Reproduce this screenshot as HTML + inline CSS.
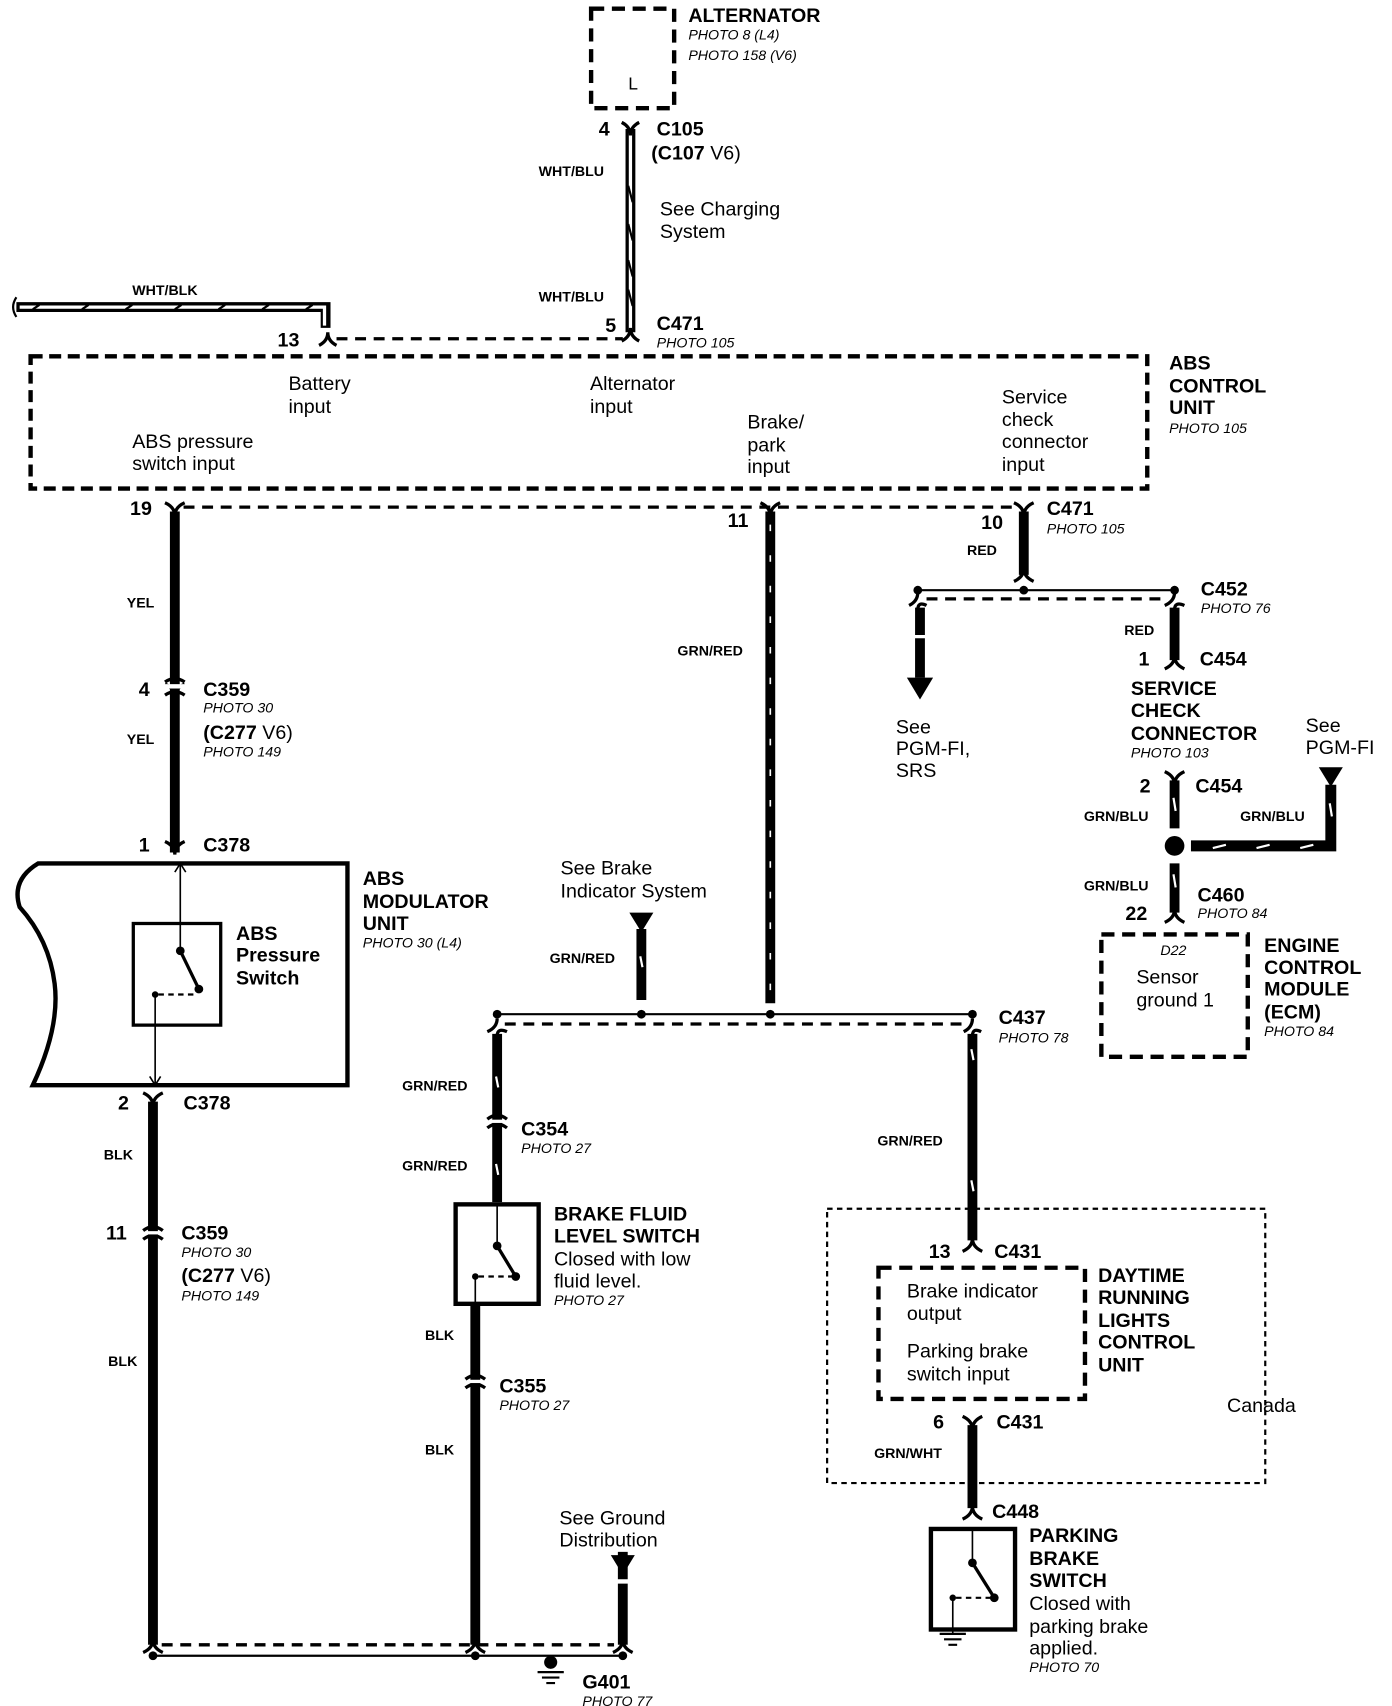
<!DOCTYPE html>
<html><head><meta charset="utf-8"><style>
html,body{margin:0;padding:0;background:#fff}
svg{display:block}
text{font-family:"Liberation Sans",Arial,sans-serif;fill:#000}
.b{font-weight:bold;font-size:18px}
.n{font-size:18px}
.i{font-style:italic;font-size:13px}
.w{font-weight:bold;font-size:13px}
</style></head><body>
<svg width="1392" height="1706" viewBox="0 0 1274 1561" preserveAspectRatio="none" xmlns="http://www.w3.org/2000/svg">
<g fill="none" stroke="#000">
<!-- Alternator box -->
<rect x="541" y="8" width="76" height="91" stroke-width="4" stroke-dasharray="12,7"/>
<!-- C105-C471 wire (double line) -->
<line x1="577" y1="118" x2="577" y2="304" stroke-width="9"/>
<line x1="577" y1="120" x2="577" y2="302" stroke="#fff" stroke-width="3"/>
<path d="M575 170 L579 185 M575 205 L579 220 M575 238 L579 253 M575 265 L579 280" stroke-width="2"/>
<path d="M569 112 Q577 116 577 124 Q577 116 585 112" stroke-width="3"/>
<path d="M569 312 Q577 308 577 300 Q577 308 585 312" stroke-width="3"/>
<!-- WHT/BLK -->
<path d="M15 281 H298 V300" stroke-width="9"/>
<path d="M18 281 H297 V298" stroke="#fff" stroke-width="3"/>
<path d="M30 283 l6 -4 M75 283 l6 -4 M115 283 l6 -4 M160 283 l6 -4 M200 283 l6 -4 M240 283 l6 -4 M280 283 l6 -4" stroke-width="2"/>
<path d="M15 272 q-6 9 0 18" stroke-width="2"/>
<path d="M292 316 Q300 312 300 304 Q300 312 308 316" stroke-width="3"/>
<line x1="308" y1="310" x2="570" y2="310" stroke-width="3" stroke-dasharray="10,7"/>
<!-- ABS control unit -->
<rect x="28" y="326" width="1022" height="121" stroke-width="4" stroke-dasharray="11,6"/>
<line x1="168" y1="464" x2="930" y2="464" stroke-width="3" stroke-dasharray="10,7"/>
<!-- YEL wire -->
<line x1="160" y1="468" x2="160" y2="780" stroke-width="9"/>
<path d="M151 460 Q160 464 160 472 Q160 464 169 460" stroke-width="3"/>
<path d="M151 626 Q160 630 160 638" stroke-width="3" /><path d="M169 626 Q160 630 160 638" stroke-width="3"/>
<rect x="150" y="626" width="20" height="4" fill="#fff" stroke="none"/>
<path d="M151 636 Q160 630 169 636" stroke-width="3"/>
<path d="M151 634 Q160 628 169 634" stroke-width="3" transform="translate(0,-10) scale(1,1)" />
<path d="M151 770 Q160 774 160 782 Q160 774 169 770" stroke-width="3"/>
<!-- ABS modulator -->
<path d="M35 790 H318 V993 H30 Q55 940 50 900 Q45 860 18 830 Q10 805 35 790 Z" stroke-width="4"/>
<rect x="122" y="845" width="80" height="93" stroke-width="3"/>
<line x1="165" y1="790" x2="165" y2="870" stroke-width="1.5"/>
<path d="M160 798 l5 -8 l5 8" stroke-width="1.5"/>
<line x1="165" y1="870" x2="182" y2="905" stroke-width="3"/>
<line x1="142" y1="910" x2="142" y2="993" stroke-width="1.5"/>
<path d="M137 985 l5 8 l5 -8" stroke-width="1.5"/>
<line x1="145" y1="910" x2="180" y2="910" stroke-width="2" stroke-dasharray="5,4"/>
<!-- BLK wire left -->
<path d="M131 1000 Q140 1004 140 1012 Q140 1004 149 1000" stroke-width="3"/>
<line x1="140" y1="1008" x2="140" y2="1505" stroke-width="9"/>
<path d="M131 1126 Q140 1119 149 1126 M131 1134 Q140 1127 149 1134" stroke-width="3"/>
<line x1="135" y1="1128" x2="145" y2="1128" stroke="#fff" stroke-width="3"/>
<!-- GRN/RED center wire 11 -->
<path d="M696 460 Q705 464 705 472 Q705 464 714 460" stroke-width="3"/>
<line x1="705" y1="468" x2="705" y2="918" stroke-width="9"/>
<line x1="705" y1="480" x2="705" y2="915" stroke="#fff" stroke-width="1.5" stroke-dasharray="6,22"/>
<!-- RED wire 10 -->
<path d="M928 460 Q937 464 937 472 Q937 464 946 460" stroke-width="3"/>
<line x1="937" y1="468" x2="937" y2="526" stroke-width="9"/>
<path d="M928 532 Q937 528 937 520 Q937 528 946 532" stroke-width="3"/>
<line x1="840" y1="540" x2="1075" y2="540" stroke-width="2"/>
<line x1="848" y1="548" x2="1068" y2="548" stroke-width="3" stroke-dasharray="10,7"/>
<path d="M832 554 Q840 550 840 542 M848 554 Q840 550 840 558" stroke-width="3"/>
<line x1="842" y1="556" x2="842" y2="620" stroke-width="9" stroke-dasharray="25,3,40"/>
<path d="M1066 554 Q1075 550 1075 542 M1084 554 Q1075 550 1075 558" stroke-width="3"/>
<line x1="1075" y1="556" x2="1075" y2="604" stroke-width="9"/>
<path d="M1066 612 Q1075 608 1075 600 Q1075 608 1084 612" stroke-width="3"/>
<!-- GRN/BLU -->
<path d="M1066 706 Q1075 710 1075 718 Q1075 710 1084 706" stroke-width="3"/>
<line x1="1075" y1="714" x2="1075" y2="758" stroke-width="9"/>
<line x1="1075" y1="790" x2="1075" y2="835" stroke-width="9"/>
<path d="M1066 844 Q1075 840 1075 832 Q1075 840 1084 844" stroke-width="3"/>
<path d="M1090 774 H1218 V718" stroke-width="10"/>
<path d="M1110 776 l12 -3 M1150 776 l12 -3 M1190 776 l12 -3 M1217 735 l2 12 M1074 730 l2 12 M1074 800 l2 12" stroke="#fff" stroke-width="2"/>
<!-- ECM box -->
<rect x="1008" y="855" width="134" height="112" stroke-width="4" stroke-dasharray="12,7"/>
<!-- GRN/RED bus C437 -->
<line x1="587" y1="850" x2="587" y2="915" stroke-width="9"/>
<line x1="455" y1="928" x2="890" y2="928" stroke-width="2"/>
<line x1="462" y1="937" x2="882" y2="937" stroke-width="3" stroke-dasharray="10,7"/>
<path d="M446 944 Q455 940 455 932 M464 944 Q455 940 455 948" stroke-width="3"/>
<line x1="455" y1="946" x2="455" y2="1100" stroke-width="9"/>
<path d="M446 1024 Q455 1017 464 1024 M446 1032 Q455 1025 464 1032" stroke-width="3"/>
<line x1="450" y1="1026" x2="460" y2="1026" stroke="#fff" stroke-width="3"/>
<path d="M882 944 Q890 940 890 932 M898 944 Q890 940 890 948" stroke-width="3"/>
<line x1="890" y1="946" x2="890" y2="1135" stroke-width="9"/>
<path d="M881 1145 Q890 1141 890 1133 Q890 1141 899 1145" stroke-width="3"/>
<path d="M454 985 l2 10 M454 1065 l2 10 M586 875 l2 10 M889 960 l2 10 M889 1080 l2 10" stroke="#fff" stroke-width="2"/>
<!-- Brake fluid switch -->
<rect x="417" y="1102" width="76" height="91" stroke-width="4"/>
<line x1="455" y1="1102" x2="455" y2="1140" stroke-width="1.5"/>
<line x1="455" y1="1140" x2="472" y2="1168" stroke-width="3"/>
<line x1="435" y1="1168" x2="435" y2="1193" stroke-width="1.5"/>
<line x1="438" y1="1168" x2="472" y2="1168" stroke-width="2" stroke-dasharray="5,4"/>
<line x1="435" y1="1195" x2="435" y2="1505" stroke-width="9"/>
<path d="M426 1262 Q435 1255 444 1262 M426 1270 Q435 1263 444 1270" stroke-width="3"/>
<line x1="430" y1="1264" x2="440" y2="1264" stroke="#fff" stroke-width="3"/>
<!-- ground bus -->
<line x1="570" y1="1420" x2="570" y2="1505" stroke-width="9" stroke-dasharray="25,4,60"/>
<line x1="148" y1="1505" x2="562" y2="1505" stroke-width="3" stroke-dasharray="10,7"/>
<line x1="140" y1="1515" x2="570" y2="1515" stroke-width="2"/>
<path d="M131 1512 Q140 1508 140 1500 Q140 1508 149 1512 M426 1512 Q435 1508 435 1500 Q435 1508 444 1512 M561 1512 Q570 1508 570 1500 Q570 1508 579 1512" stroke-width="3"/>
<path d="M492 1530 h24 M496 1535 h16 M500 1540 h8" stroke-width="2"/>
<!-- DRL -->
<rect x="757" y="1106" width="401" height="251" stroke-width="2" stroke-dasharray="5,4"/>
<rect x="804" y="1160" width="189" height="120" stroke-width="4" stroke-dasharray="12,7"/>
<path d="M881 1296 Q890 1300 890 1308 Q890 1300 899 1296" stroke-width="3"/>
<line x1="890" y1="1304" x2="890" y2="1380" stroke-width="9"/>
<path d="M881 1390 Q890 1386 890 1378 Q890 1386 899 1390" stroke-width="3"/>
<rect x="852" y="1399" width="77" height="92" stroke-width="4"/>
<line x1="890" y1="1399" x2="890" y2="1430" stroke-width="1.5"/>
<line x1="890" y1="1430" x2="910" y2="1462" stroke-width="3"/>
<line x1="872" y1="1462" x2="872" y2="1495" stroke-width="1.5"/>
<line x1="875" y1="1462" x2="910" y2="1462" stroke-width="2" stroke-dasharray="5,4"/>
<path d="M860 1495 h24 M864 1500 h16 M868 1505 h8" stroke-width="2"/>
</g>
<g fill="#000">
<circle cx="840" cy="540" r="4"/><circle cx="937" cy="540" r="4"/><circle cx="1075" cy="540" r="4"/>
<path d="M830 620 H854 L842 640 Z"/>
<path d="M1207 702 H1229 L1218 720 Z"/>
<path d="M576 835 H598 L587 853 Z"/>
<path d="M559 1423 H581 L570 1441 Z"/>
<circle cx="1075" cy="774" r="9"/>
<circle cx="455" cy="928" r="4"/><circle cx="587" cy="928" r="4"/><circle cx="705" cy="928" r="4"/><circle cx="890" cy="928" r="4"/>
<circle cx="140" cy="1515" r="4"/><circle cx="435" cy="1515" r="4"/><circle cx="570" cy="1515" r="4"/><circle cx="504" cy="1521" r="6"/>
<circle cx="165" cy="870" r="4"/><circle cx="182" cy="905" r="4"/><circle cx="142" cy="910" r="3"/>
<circle cx="455" cy="1140" r="4"/><circle cx="472" cy="1168" r="4"/><circle cx="435" cy="1168" r="3"/>
<circle cx="890" cy="1430" r="4"/><circle cx="910" cy="1462" r="4"/><circle cx="872" cy="1462" r="3"/>
</g>
<!-- Text -->
<text x="630" y="20" class="b">ALTERNATOR</text>
<text x="630" y="36" class="i">PHOTO 8 (L4)</text>
<text x="630" y="55" class="i">PHOTO 158 (V6)</text>
<text x="575" y="82" class="n" style="font-size:16px">L</text>
<text x="548" y="124" class="b">4</text>
<text x="601" y="124" class="b">C105</text>
<text x="596" y="146" class="n"><tspan font-weight="bold">(C107</tspan> V6)</text>
<text x="493" y="161" class="w">WHT/BLU</text>
<text x="604" y="197" class="n">See Charging</text>
<text x="604" y="218" class="n">System</text>
<text x="121" y="270" class="w">WHT/BLK</text>
<text x="493" y="276" class="w">WHT/BLU</text>
<text x="254" y="317" class="b">13</text>
<text x="554" y="304" class="b">5</text>
<text x="601" y="302" class="b">C471</text>
<text x="601" y="318" class="i">PHOTO 105</text>
<text x="1070" y="338" class="b">ABS</text>
<text x="1070" y="359" class="b">CONTROL</text>
<text x="1070" y="379" class="b">UNIT</text>
<text x="1070" y="396" class="i">PHOTO 105</text>
<text x="264" y="357" class="n">Battery</text>
<text x="264" y="378" class="n">input</text>
<text x="540" y="357" class="n">Alternator</text>
<text x="540" y="378" class="n">input</text>
<text x="684" y="392" class="n">Brake/</text>
<text x="684" y="413" class="n">park</text>
<text x="684" y="433" class="n">input</text>
<text x="917" y="369" class="n">Service</text>
<text x="917" y="390" class="n">check</text>
<text x="917" y="410" class="n">connector</text>
<text x="917" y="431" class="n">input</text>
<text x="121" y="410" class="n">ABS pressure</text>
<text x="121" y="430" class="n">switch input</text>
<text x="119" y="471" class="b">19</text>
<text x="666" y="482" class="b">11</text>
<text x="898" y="484" class="b">10</text>
<text x="958" y="471" class="b">C471</text>
<text x="958" y="488" class="i">PHOTO 105</text>
<text x="885" y="508" class="w">RED</text>
<text x="1099" y="545" class="b">C452</text>
<text x="1099" y="561" class="i">PHOTO 76</text>
<text x="1029" y="581" class="w">RED</text>
<text x="1042" y="609" class="b">1</text>
<text x="1098" y="609" class="b">C454</text>
<text x="1035" y="636" class="b">SERVICE</text>
<text x="1035" y="656" class="b">CHECK</text>
<text x="1035" y="677" class="b">CONNECTOR</text>
<text x="1035" y="693" class="i">PHOTO 103</text>
<text x="1195" y="670" class="n">See</text>
<text x="1195" y="690" class="n">PGM-FI</text>
<text x="820" y="671" class="n">See</text>
<text x="820" y="691" class="n">PGM-FI,</text>
<text x="820" y="711" class="n">SRS</text>
<text x="116" y="556" class="w">YEL</text>
<text x="620" y="600" class="w">GRN/RED</text>
<text x="127" y="637" class="b">4</text>
<text x="186" y="637" class="b">C359</text>
<text x="186" y="652" class="i">PHOTO 30</text>
<text x="186" y="676" class="n"><tspan font-weight="bold">(C277</tspan> V6)</text>
<text x="186" y="692" class="i">PHOTO 149</text>
<text x="116" y="681" class="w">YEL</text>
<text x="1043" y="725" class="b">2</text>
<text x="1094" y="725" class="b">C454</text>
<text x="992" y="751" class="w">GRN/BLU</text>
<text x="1135" y="751" class="w">GRN/BLU</text>
<text x="127" y="779" class="b">1</text>
<text x="186" y="779" class="b">C378</text>
<text x="513" y="800" class="n">See Brake</text>
<text x="513" y="821" class="n">Indicator System</text>
<text x="992" y="815" class="w">GRN/BLU</text>
<text x="1096" y="825" class="b">C460</text>
<text x="1096" y="840" class="i">PHOTO 84</text>
<text x="1030" y="842" class="b">22</text>
<text x="332" y="810" class="b">ABS</text>
<text x="332" y="831" class="b">MODULATOR</text>
<text x="332" y="851" class="b">UNIT</text>
<text x="332" y="867" class="i">PHOTO 30 (L4)</text>
<text x="1062" y="874" class="i">D22</text>
<text x="1040" y="900" class="n">Sensor</text>
<text x="1040" y="921" class="n">ground 1</text>
<text x="1157" y="871" class="b">ENGINE</text>
<text x="1157" y="891" class="b">CONTROL</text>
<text x="1157" y="911" class="b">MODULE</text>
<text x="1157" y="932" class="b">(ECM)</text>
<text x="1157" y="948" class="i">PHOTO 84</text>
<text x="216" y="860" class="b">ABS</text>
<text x="216" y="880" class="b">Pressure</text>
<text x="216" y="901" class="b">Switch</text>
<text x="503" y="881" class="w">GRN/RED</text>
<text x="914" y="937" class="b">C437</text>
<text x="914" y="954" class="i">PHOTO 78</text>
<text x="368" y="998" class="w">GRN/RED</text>
<text x="108" y="1015" class="b">2</text>
<text x="168" y="1015" class="b">C378</text>
<text x="477" y="1039" class="b">C354</text>
<text x="477" y="1055" class="i">PHOTO 27</text>
<text x="803" y="1048" class="w">GRN/RED</text>
<text x="95" y="1061" class="w">BLK</text>
<text x="368" y="1071" class="w">GRN/RED</text>
<text x="507" y="1117" class="b">BRAKE FLUID</text>
<text x="507" y="1137" class="b">LEVEL SWITCH</text>
<text x="507" y="1158" class="n">Closed with low</text>
<text x="507" y="1178" class="n">fluid level.</text>
<text x="507" y="1194" class="i">PHOTO 27</text>
<text x="97" y="1134" class="b">11</text>
<text x="166" y="1134" class="b">C359</text>
<text x="166" y="1150" class="i">PHOTO 30</text>
<text x="166" y="1173" class="n"><tspan font-weight="bold">(C277</tspan> V6)</text>
<text x="166" y="1190" class="i">PHOTO 149</text>
<text x="850" y="1151" class="b">13</text>
<text x="910" y="1151" class="b">C431</text>
<text x="1005" y="1173" class="b">DAYTIME</text>
<text x="1005" y="1193" class="b">RUNNING</text>
<text x="1005" y="1214" class="b">LIGHTS</text>
<text x="1005" y="1234" class="b">CONTROL</text>
<text x="1005" y="1255" class="b">UNIT</text>
<text x="830" y="1187" class="n">Brake indicator</text>
<text x="830" y="1208" class="n">output</text>
<text x="830" y="1242" class="n">Parking brake</text>
<text x="830" y="1263" class="n">switch input</text>
<text x="389" y="1226" class="w">BLK</text>
<text x="99" y="1250" class="w">BLK</text>
<text x="457" y="1274" class="b">C355</text>
<text x="457" y="1290" class="i">PHOTO 27</text>
<text x="1123" y="1292" class="n">Canada</text>
<text x="854" y="1307" class="b">6</text>
<text x="912" y="1307" class="b">C431</text>
<text x="800" y="1334" class="w">GRN/WHT</text>
<text x="389" y="1331" class="w">BLK</text>
<text x="908" y="1389" class="b">C448</text>
<text x="512" y="1395" class="n">See Ground</text>
<text x="512" y="1415" class="n">Distribution</text>
<text x="942" y="1411" class="b">PARKING</text>
<text x="942" y="1432" class="b">BRAKE</text>
<text x="942" y="1452" class="b">SWITCH</text>
<text x="942" y="1473" class="n">Closed with</text>
<text x="942" y="1494" class="n">parking brake</text>
<text x="942" y="1514" class="n">applied.</text>
<text x="942" y="1530" class="i">PHOTO 70</text>
<text x="533" y="1545" class="b">G401</text>
<text x="533" y="1561" class="i">PHOTO 77</text>
</svg>
</body></html>
